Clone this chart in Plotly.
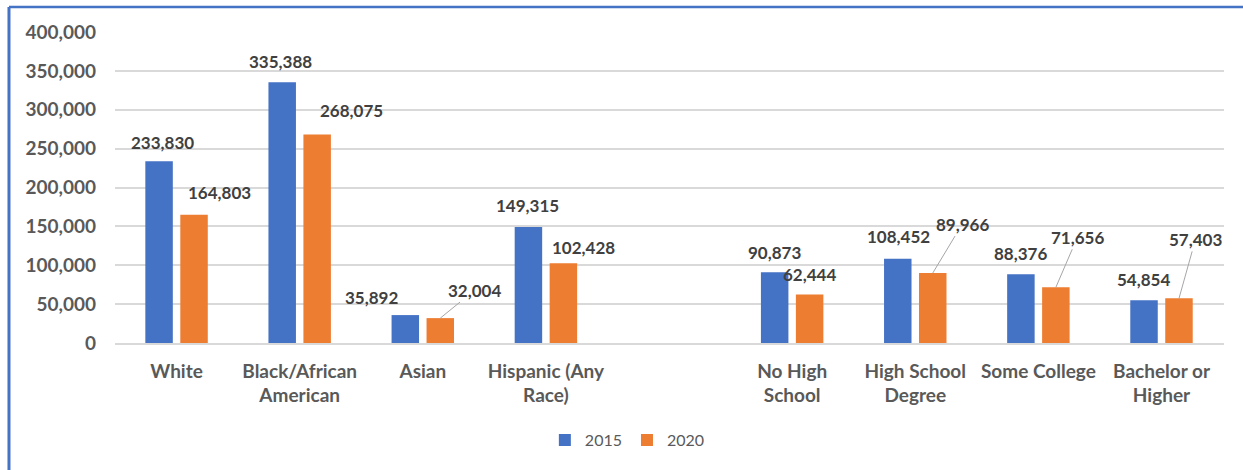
import plotly.graph_objects as go

categories = ["White", "Black/African<br>American", "Asian", "Hispanic (Any<br>Race)", " ",
              "No High<br>School", "High School<br>Degree", "Some College", "Bachelor or<br>Higher"]
values_2015 = [233830, 335388, 35892, 149315, None, 90873, 108452, 88376, 54854]
values_2020 = [164803, 268075, 32004, 102428, None, 62444, 89966, 71656, 57403]
labels_2015 = ["233,830", "335,388", "35,892", "149,315", None, "90,873", "108,452", "88,376", "54,854"]
labels_2020 = ["164,803", "268,075", "32,004", "102,428", None, "62,444", "89,966", "71,656", "57,403"]
y_ticks = [0, 50000, 100000, 150000, 200000, 250000, 300000, 350000, 400000]
y_tick_text = ["0", "50,000", "100,000", "150,000", "200,000", "250,000", "300,000", "350,000", "400,000"]

BLUE = "#4472C4"
ORANGE = "#ED7D31"
GRAY = "#595959"
FONT = "Lato"

# label placement (pixel offsets from category centre, pixel height above bar top, leader line flag)
pos_2015 = [(-14, 19), (-19, 21), (-51, 18), (-18, 21), None, (-18, 20), (-17, 22), (-18, 21), (-18, 21)]
pos_2020 = [(43, 22, False), (52, 24, False), (52, 28, True), (38, 16, False), None,
            (17, 20, False), (47, 49, True), (39, 50, True), (34, 59, True)]

fig = go.Figure()
fig.add_trace(go.Bar(name="2015", x=categories, y=values_2015, marker_color=BLUE, marker_line_width=0))
fig.add_trace(go.Bar(name="2020", x=categories, y=values_2020, marker_color=ORANGE, marker_line_width=0))

lab_font = dict(family=FONT, size=17, color="#404040", weight="bold")
annotations = []
for i, cat in enumerate(categories):
    if values_2015[i] is not None:
        dx, dy = pos_2015[i]
        annotations.append(dict(x=cat, y=values_2015[i], xref="x", yref="y", text=labels_2015[i],
                                showarrow=False, xshift=dx, yshift=dy, xanchor="center", yanchor="middle",
                                font=lab_font))
    if values_2020[i] is not None:
        dx, dy, arrow = pos_2020[i]
        if arrow:
            annotations.append(dict(x=cat, y=values_2020[i], xref="x", yref="y", text=labels_2020[i],
                                    showarrow=True, arrowhead=0, arrowwidth=1, arrowcolor="#A6A6A6",
                                    standoff=0, xshift=17.5, ax=dx - 17.5, ay=-dy,
                                    font=lab_font))
        else:
            annotations.append(dict(x=cat, y=values_2020[i], xref="x", yref="y", text=labels_2020[i],
                                    showarrow=False, xshift=dx, yshift=dy, xanchor="center", yanchor="middle",
                                    font=lab_font))

fig.update_layout(
    width=1243, height=470,
    margin=dict(l=115, r=19, t=32, b=127),
    paper_bgcolor="white", plot_bgcolor="white",
    barmode="group", bargap=0.432, bargroupgap=0.214,
    font=dict(family=FONT, color=GRAY),
    showlegend=True,
    legend=dict(orientation="h", x=0.462, xanchor="center", y=-0.312, yanchor="middle",
                font=dict(family=FONT, size=16, color=GRAY), itemwidth=30, traceorder="normal"),
    annotations=annotations,
    shapes=[
        dict(type="line", xref="paper", yref="paper", x0=-0.0956, x1=1.05, y0=1.0804, y1=1.0804,
             line=dict(color=BLUE, width=2.5)),
        dict(type="line", xref="paper", yref="paper", x0=-0.0956, x1=-0.0956, y0=-0.5, y1=1.0804,
             line=dict(color=BLUE, width=3)),
    ],
)
fig.update_xaxes(type="category", categoryorder="array", categoryarray=categories,
                 tickfont=dict(family=FONT, size=19, color=GRAY, weight="bold"),
                 showline=True, linecolor="#D9D9D9", linewidth=1.5, ticks="", ticklabelstandoff=10,
                 showgrid=False)
fig.update_yaxes(range=[0, 400000], tickvals=y_ticks, ticktext=y_tick_text,
                 tickfont=dict(family=FONT, size=19, color=GRAY, weight="bold"),
                 showgrid=True, gridcolor="#D9D9D9", gridwidth=1.5, zeroline=False,
                 ticks="", ticklabelstandoff=18)

fig.write_html("out.html", config={"displayModeBar": False},
               post_script="document.body.style.margin='0';document.body.style.overflow='hidden';")
